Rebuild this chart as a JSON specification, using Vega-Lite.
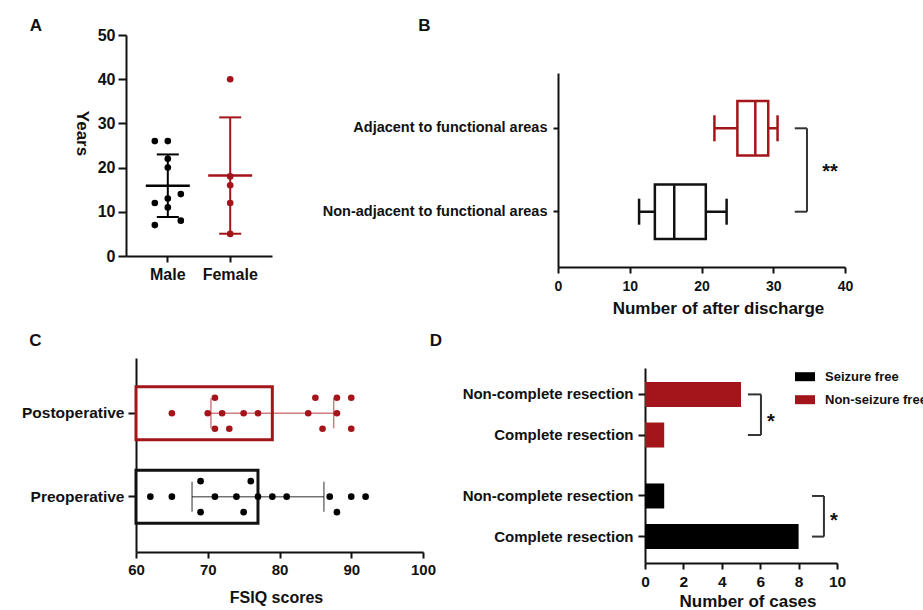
{
  "$schema": "https://vega.github.io/schema/vega-lite/v6.json",
  "width": 923,
  "height": 610,
  "autosize": "none",
  "padding": 0,
  "background": "white",
  "config": {
    "view": {"stroke": null},
    "font": "Liberation Sans",
    "tick": {"opacity": 1},
    "axis": {"grid": false, "domainColor": "#111111", "domainWidth": 2, "tickColor": "#111111", "tickWidth": 2, "labelColor": "#111111", "labelFontWeight": "bold", "titleColor": "#111111", "titleFontWeight": "bold", "labelFlush": false, "labelOverlap": false, "labelLimit": 0}
  },
  "datasets": {
    "age": [
      {"sex": "Male", "age": 26, "lane": -1},
      {"sex": "Male", "age": 26, "lane": 0},
      {"sex": "Male", "age": 22, "lane": 0},
      {"sex": "Male", "age": 20, "lane": 0},
      {"sex": "Male", "age": 14, "lane": 1},
      {"sex": "Male", "age": 13, "lane": 0},
      {"sex": "Male", "age": 12, "lane": -1},
      {"sex": "Male", "age": 11, "lane": 0},
      {"sex": "Male", "age": 8, "lane": 1},
      {"sex": "Male", "age": 7, "lane": -1},
      {"sex": "Female", "age": 40, "lane": 0},
      {"sex": "Female", "age": 18, "lane": 0},
      {"sex": "Female", "age": 16, "lane": 0},
      {"sex": "Female", "age": 12, "lane": 0},
      {"sex": "Female", "age": 5, "lane": 0}
    ],
    "discharge": [
      {"group": "Adjacent to functional areas", "lo": 21.8, "q1": 25.0, "med": 27.5, "q3": 29.3, "hi": 30.6},
      {"group": "Non-adjacent to functional areas", "lo": 11.3, "q1": 13.5, "med": 16.2, "q3": 20.6, "hi": 23.5}
    ],
    "fsiq": [
      {"time": "Postoperative", "score": 65, "lane": 0},
      {"time": "Postoperative", "score": 70, "lane": 0},
      {"time": "Postoperative", "score": 72, "lane": 0},
      {"time": "Postoperative", "score": 75, "lane": 0},
      {"time": "Postoperative", "score": 77, "lane": 0},
      {"time": "Postoperative", "score": 84, "lane": 0},
      {"time": "Postoperative", "score": 88, "lane": 0},
      {"time": "Postoperative", "score": 71, "lane": -1},
      {"time": "Postoperative", "score": 85, "lane": -1},
      {"time": "Postoperative", "score": 88, "lane": -1},
      {"time": "Postoperative", "score": 90, "lane": -1},
      {"time": "Postoperative", "score": 71, "lane": 1},
      {"time": "Postoperative", "score": 73, "lane": 1},
      {"time": "Postoperative", "score": 86, "lane": 1},
      {"time": "Postoperative", "score": 90, "lane": 1},
      {"time": "Preoperative", "score": 62, "lane": 0},
      {"time": "Preoperative", "score": 65, "lane": 0},
      {"time": "Preoperative", "score": 71, "lane": 0},
      {"time": "Preoperative", "score": 74, "lane": 0},
      {"time": "Preoperative", "score": 77, "lane": 0},
      {"time": "Preoperative", "score": 79, "lane": 0},
      {"time": "Preoperative", "score": 81, "lane": 0},
      {"time": "Preoperative", "score": 87, "lane": 0},
      {"time": "Preoperative", "score": 90, "lane": 0},
      {"time": "Preoperative", "score": 92, "lane": 0},
      {"time": "Preoperative", "score": 69, "lane": -1},
      {"time": "Preoperative", "score": 76, "lane": -1},
      {"time": "Preoperative", "score": 69, "lane": 1},
      {"time": "Preoperative", "score": 75, "lane": 1},
      {"time": "Preoperative", "score": 88, "lane": 1}
    ],
    "cases": [
      {"outcome": "Non-seizure free", "resection": "Non-complete resection", "row": "Non-seizure free / Non-complete resection", "cases": 5},
      {"outcome": "Non-seizure free", "resection": "Complete resection", "row": "Non-seizure free / Complete resection", "cases": 1},
      {"outcome": "Seizure free", "resection": "Non-complete resection", "row": "Seizure free / Non-complete resection", "cases": 1},
      {"outcome": "Seizure free", "resection": "Complete resection", "row": "Seizure free / Complete resection", "cases": 8}
    ],
    "sigB": [{"sig": "**"}],
    "sigD": [{"sig": "*"}]
  },
  "layer": [
    {
      "data": {"name": "age"},
      "mark": {"type": "errorbar", "extent": "stdev", "thickness": 2, "ticks": {"size": 22, "thickness": 2, "opacity": 1}},
      "encoding": {
        "x": {"field": "sex", "type": "nominal",
          "scale": {"type": "band", "domain": ["Male", "Female"], "range": [126, 272], "paddingInner": 0.5, "paddingOuter": 0.42},
          "axis": {"orient": "bottom", "offset": -354, "bandPosition": 0.5, "labelAngle": 0, "labelFontSize": 16, "tickSize": 6, "labelPadding": 4, "title": "A", "titleFontSize": 17, "titleX": 35.5, "titleY": -226, "titleAlign": "center", "titleBaseline": "alphabetic", "titleAngle": 0}},
        "y": {"field": "age", "type": "quantitative",
          "scale": {"domain": [0, 50], "range": [256, 35], "nice": false, "zero": false},
          "axis": {"orient": "left", "offset": -126, "values": [0, 10, 20, 30, 40, 50], "labelFontSize": 16, "tickSize": 8, "labelPadding": 3, "title": "Years", "titleFontSize": 17, "titleAngle": 90, "titleX": -45, "titleY": 133, "titleAlign": "center", "titleBaseline": "middle"}},
        "color": {"field": "sex", "type": "nominal", "scale": {"domain": ["Male", "Female"], "range": ["#000000", "#a3151b"]}, "legend": null}
      }
    },
    {
      "data": {"name": "age"},
      "mark": {"type": "tick", "thickness": 2.5, "size": 44, "opacity": 1},
      "encoding": {
        "x": {"field": "sex", "type": "nominal", "scale": {"type": "band", "domain": ["Male", "Female"], "range": [126, 272], "paddingInner": 0.5, "paddingOuter": 0.42}, "axis": null},
        "y": {"aggregate": "mean", "field": "age", "type": "quantitative", "scale": {"domain": [0, 50], "range": [256, 35], "nice": false, "zero": false}, "axis": null},
        "color": {"field": "sex", "type": "nominal", "scale": {"domain": ["Male", "Female"], "range": ["#000000", "#a3151b"]}, "legend": null}
      }
    },
    {
      "data": {"name": "age"},
      "mark": {"type": "circle", "size": 44, "opacity": 1},
      "encoding": {
        "x": {"field": "sex", "type": "nominal", "scale": {"type": "band", "domain": ["Male", "Female"], "range": [126, 272], "paddingInner": 0.5, "paddingOuter": 0.42}, "axis": null},
        "xOffset": {"field": "lane", "type": "quantitative", "scale": {"domain": [-1, 1], "range": [2.6, 28.6]}},
        "y": {"field": "age", "type": "quantitative", "scale": {"domain": [0, 50], "range": [256, 35], "nice": false, "zero": false}, "axis": null},
        "color": {"field": "sex", "type": "nominal", "scale": {"domain": ["Male", "Female"], "range": ["#000000", "#a3151b"]}, "legend": null}
      }
    },
    {
      "data": {"name": "discharge"},
      "mark": {"type": "rule", "strokeWidth": 2.5},
      "encoding": {
        "x": {"field": "lo", "type": "quantitative",
          "scale": {"domain": [0, 40], "range": [558, 845], "nice": false, "zero": false},
          "axis": {"orient": "bottom", "offset": -343, "values": [0, 10, 20, 30, 40], "labelFontSize": 14, "tickSize": 6, "labelPadding": 6, "title": "Number of after discharge", "titleFontSize": 17, "titleX": 718, "titleY": 41, "titleAlign": "center", "titleBaseline": "middle"}},
        "x2": {"field": "hi"},
        "y": {"field": "group", "type": "nominal",
          "scale": {"type": "band", "domain": ["Adjacent to functional areas", "Non-adjacent to functional areas"], "range": [73, 267], "paddingInner": 0.346, "paddingOuter": 0.336},
          "axis": {"orient": "left", "offset": -558, "bandPosition": 0.5, "labelFontSize": 14.5, "tickSize": 5, "labelPadding": 6, "title": "B", "titleFontSize": 17, "titleAngle": 0, "titleX": -134, "titleY": 30, "titleAlign": "center", "titleBaseline": "alphabetic"}},
        "color": {"field": "group", "type": "nominal", "scale": {"domain": ["Adjacent to functional areas", "Non-adjacent to functional areas"], "range": ["#a3151b", "#111111"]}, "legend": null}
      }
    },
    {
      "data": {"name": "discharge"},
      "mark": {"type": "bar", "fill": "white", "strokeWidth": 2.5, "height": 54.5},
      "encoding": {
        "x": {"field": "q1", "type": "quantitative", "scale": {"domain": [0, 40], "range": [558, 845], "nice": false, "zero": false}, "axis": null},
        "x2": {"field": "q3"},
        "y": {"field": "group", "type": "nominal", "scale": {"type": "band", "domain": ["Adjacent to functional areas", "Non-adjacent to functional areas"], "range": [73, 267], "paddingInner": 0.346, "paddingOuter": 0.336}, "axis": null},
        "stroke": {"field": "group", "type": "nominal", "scale": {"domain": ["Adjacent to functional areas", "Non-adjacent to functional areas"], "range": ["#a3151b", "#111111"]}, "legend": null}
      }
    },
    {
      "data": {"name": "discharge"},
      "mark": {"type": "tick", "size": 26, "thickness": 2.5, "opacity": 1},
      "encoding": {
        "x": {"field": "lo", "type": "quantitative", "scale": {"domain": [0, 40], "range": [558, 845], "nice": false, "zero": false}, "axis": null},
        "y": {"field": "group", "type": "nominal", "scale": {"type": "band", "domain": ["Adjacent to functional areas", "Non-adjacent to functional areas"], "range": [73, 267], "paddingInner": 0.346, "paddingOuter": 0.336}, "axis": null},
        "color": {"field": "group", "type": "nominal", "scale": {"domain": ["Adjacent to functional areas", "Non-adjacent to functional areas"], "range": ["#a3151b", "#111111"]}, "legend": null}
      }
    },
    {
      "data": {"name": "discharge"},
      "mark": {"type": "tick", "size": 26, "thickness": 2.5, "opacity": 1},
      "encoding": {
        "x": {"field": "hi", "type": "quantitative", "scale": {"domain": [0, 40], "range": [558, 845], "nice": false, "zero": false}, "axis": null},
        "y": {"field": "group", "type": "nominal", "scale": {"type": "band", "domain": ["Adjacent to functional areas", "Non-adjacent to functional areas"], "range": [73, 267], "paddingInner": 0.346, "paddingOuter": 0.336}, "axis": null},
        "color": {"field": "group", "type": "nominal", "scale": {"domain": ["Adjacent to functional areas", "Non-adjacent to functional areas"], "range": ["#a3151b", "#111111"]}, "legend": null}
      }
    },
    {
      "data": {"name": "discharge"},
      "mark": {"type": "tick", "size": 53, "thickness": 2.5, "opacity": 1},
      "encoding": {
        "x": {"field": "med", "type": "quantitative", "scale": {"domain": [0, 40], "range": [558, 845], "nice": false, "zero": false}, "axis": null},
        "y": {"field": "group", "type": "nominal", "scale": {"type": "band", "domain": ["Adjacent to functional areas", "Non-adjacent to functional areas"], "range": [73, 267], "paddingInner": 0.346, "paddingOuter": 0.336}, "axis": null},
        "color": {"field": "group", "type": "nominal", "scale": {"domain": ["Adjacent to functional areas", "Non-adjacent to functional areas"], "range": ["#a3151b", "#111111"]}, "legend": null}
      }
    },
    {
      "data": {"name": "discharge"},
      "mark": {"type": "rule", "strokeWidth": 2, "color": "#333333"},
      "encoding": {
        "x": {"datum": 33.0, "scale": {"domain": [0, 40], "range": [558, 845], "nice": false, "zero": false}, "axis": null},
        "x2": {"datum": 34.7},
        "y": {"field": "group", "type": "nominal", "scale": {"type": "band", "domain": ["Adjacent to functional areas", "Non-adjacent to functional areas"], "range": [73, 267], "paddingInner": 0.346, "paddingOuter": 0.336}, "axis": null}
      }
    },
    {
      "data": {"name": "sigB"},
      "mark": {"type": "rule", "strokeWidth": 2, "color": "#333333"},
      "encoding": {
        "x": {"datum": 34.7, "scale": {"domain": [0, 40], "range": [558, 845], "nice": false, "zero": false}, "axis": null},
        "y": {"datum": "Adjacent to functional areas", "scale": {"type": "band", "domain": ["Adjacent to functional areas", "Non-adjacent to functional areas"], "range": [73, 267], "paddingInner": 0.346, "paddingOuter": 0.336}, "axis": null},
        "y2": {"datum": "Non-adjacent to functional areas"}
      }
    },
    {
      "data": {"name": "sigB"},
      "mark": {"type": "text", "fontSize": 20, "fontWeight": "bold", "color": "#111111", "baseline": "alphabetic", "dy": 50},
      "encoding": {
        "x": {"datum": 37.9, "scale": {"domain": [0, 40], "range": [558, 845], "nice": false, "zero": false}, "axis": null},
        "y": {"datum": "Adjacent to functional areas", "scale": {"type": "band", "domain": ["Adjacent to functional areas", "Non-adjacent to functional areas"], "range": [73, 267], "paddingInner": 0.346, "paddingOuter": 0.336}, "axis": null},
        "text": {"field": "sig"}
      }
    },
    {
      "data": {"name": "fsiq"},
      "mark": {"type": "bar", "fill": "white", "strokeWidth": 3, "height": 53},
      "encoding": {
        "x": {"aggregate": "mean", "field": "score", "type": "quantitative",
          "scale": {"domain": [60, 100], "range": [136, 423], "nice": false, "zero": false},
          "axis": {"orient": "bottom", "offset": -58, "values": [60, 70, 80, 90, 100], "labelFontSize": 15, "tickSize": 6, "labelPadding": 4, "title": "FSIQ scores", "titleFontSize": 16, "titleX": 276, "titleY": 45, "titleAlign": "center", "titleBaseline": "middle"}},
        "x2": {"datum": 60},
        "y": {"field": "time", "type": "nominal",
          "scale": {"type": "band", "domain": ["Postoperative", "Preoperative"], "range": [358, 552], "paddingInner": 0.364, "paddingOuter": 0.345},
          "axis": {"orient": "left", "offset": -136, "bandPosition": 0.5, "labelFontSize": 15.5, "tickSize": 8, "labelPadding": 4, "title": "C", "titleFontSize": 17, "titleAngle": 0, "titleX": -101, "titleY": 345, "titleAlign": "center", "titleBaseline": "alphabetic"}},
        "stroke": {"field": "time", "type": "nominal", "scale": {"domain": ["Postoperative", "Preoperative"], "range": ["#a3151b", "#111111"]}, "legend": null}
      }
    },
    {
      "data": {"name": "fsiq"},
      "mark": {"type": "errorbar", "extent": "stdev", "thickness": 1.5, "opacity": 0.55, "ticks": {"size": 30, "thickness": 1.5}},
      "encoding": {
        "x": {"field": "score", "type": "quantitative", "scale": {"domain": [60, 100], "range": [136, 423], "nice": false, "zero": false}, "axis": null},
        "y": {"field": "time", "type": "nominal", "scale": {"type": "band", "domain": ["Postoperative", "Preoperative"], "range": [358, 552], "paddingInner": 0.364, "paddingOuter": 0.345}, "axis": null},
        "color": {"field": "time", "type": "nominal", "scale": {"domain": ["Postoperative", "Preoperative"], "range": ["#a3151b", "#000000"]}, "legend": null}
      }
    },
    {
      "data": {"name": "fsiq"},
      "mark": {"type": "circle", "size": 44, "opacity": 1},
      "encoding": {
        "x": {"field": "score", "type": "quantitative", "scale": {"domain": [60, 100], "range": [136, 423], "nice": false, "zero": false}, "axis": null},
        "y": {"field": "time", "type": "nominal", "scale": {"type": "band", "domain": ["Postoperative", "Preoperative"], "range": [358, 552], "paddingInner": 0.364, "paddingOuter": 0.345}, "axis": null},
        "yOffset": {"field": "lane", "type": "quantitative", "scale": {"domain": [-1, 1], "range": [11, 42]}},
        "color": {"field": "time", "type": "nominal", "scale": {"domain": ["Postoperative", "Preoperative"], "range": ["#a3151b", "#000000"]}, "legend": null}
      }
    },
    {
      "data": {"name": "cases"},
      "mark": {"type": "bar", "height": 25},
      "encoding": {
        "x": {"field": "cases", "type": "quantitative",
          "scale": {"domain": [0, 10], "range": [645, 837], "nice": false},
          "axis": {"orient": "bottom", "offset": -47, "values": [0, 2, 4, 6, 8, 10], "labelFontSize": 15.5, "tickSize": 6, "labelPadding": 5, "title": "Number of cases", "titleFontSize": 17, "titleX": 747.5, "titleY": 38.7, "titleAlign": "center", "titleBaseline": "middle"}},
        "y": {"field": "row", "type": "nominal",
          "scale": {"type": "band", "domain": ["Non-seizure free / Non-complete resection", "gap1", "Non-seizure free / Complete resection", "gap2", "gap3", "Seizure free / Non-complete resection", "gap4", "Seizure free / Complete resection"], "range": [368, 563], "paddingInner": 0, "paddingOuter": 0.8},
          "axis": {"orient": "left", "offset": -645, "bandPosition": 0.5, "values": ["Non-seizure free / Non-complete resection", "Non-seizure free / Complete resection", "Seizure free / Non-complete resection", "Seizure free / Complete resection"], "labelExpr": "split(datum.value, ' / ')[1]", "labelFontSize": 15, "tickSize": 7, "labelPadding": 5, "title": "D", "titleFontSize": 17, "titleAngle": 0, "titleX": -209.5, "titleY": 345, "titleAlign": "center", "titleBaseline": "alphabetic"}},
        "color": {"field": "outcome", "type": "nominal",
          "scale": {"domain": ["Seizure free", "Non-seizure free"], "range": ["#000000", "#a3151b"]},
          "legend": {"orient": "none", "legendX": 795, "legendY": 366.7, "title": null, "padding": 0, "symbolType": "M-1,-0.45H1V0.45H-1Z", "symbolSize": 400, "symbolStrokeWidth": 0, "symbolOpacity": 1, "labelFontSize": 13, "labelFontWeight": "bold", "labelColor": "#111111", "labelOffset": 10, "rowPadding": 6, "labelLimit": 0}}
      }
    },
    {
      "data": {"name": "cases"},
      "transform": [{"filter": "datum.outcome == 'Non-seizure free'"}],
      "mark": {"type": "rule", "strokeWidth": 2, "color": "#333333"},
      "encoding": {
        "x": {"datum": 5.36, "scale": {"domain": [0, 10], "range": [645, 837], "nice": false}, "axis": null},
        "x2": {"datum": 6.04},
        "y": {"field": "row", "type": "nominal", "scale": {"type": "band", "domain": ["Non-seizure free / Non-complete resection", "gap1", "Non-seizure free / Complete resection", "gap2", "gap3", "Seizure free / Non-complete resection", "gap4", "Seizure free / Complete resection"], "range": [368, 563], "paddingInner": 0, "paddingOuter": 0.8}, "axis": null}
      }
    },
    {
      "data": {"name": "cases"},
      "transform": [{"filter": "datum.outcome == 'Seizure free'"}],
      "mark": {"type": "rule", "strokeWidth": 2, "color": "#333333"},
      "encoding": {
        "x": {"datum": 8.7, "scale": {"domain": [0, 10], "range": [645, 837], "nice": false}, "axis": null},
        "x2": {"datum": 9.32},
        "y": {"field": "row", "type": "nominal", "scale": {"type": "band", "domain": ["Non-seizure free / Non-complete resection", "gap1", "Non-seizure free / Complete resection", "gap2", "gap3", "Seizure free / Non-complete resection", "gap4", "Seizure free / Complete resection"], "range": [368, 563], "paddingInner": 0, "paddingOuter": 0.8}, "axis": null}
      }
    },
    {
      "data": {"name": "sigD"},
      "mark": {"type": "rule", "strokeWidth": 2, "color": "#333333"},
      "encoding": {
        "x": {"datum": 6.04, "scale": {"domain": [0, 10], "range": [645, 837], "nice": false}, "axis": null},
        "y": {"datum": "Non-seizure free / Non-complete resection", "scale": {"type": "band", "domain": ["Non-seizure free / Non-complete resection", "gap1", "Non-seizure free / Complete resection", "gap2", "gap3", "Seizure free / Non-complete resection", "gap4", "Seizure free / Complete resection"], "range": [368, 563], "paddingInner": 0, "paddingOuter": 0.8}, "axis": null},
        "y2": {"datum": "Non-seizure free / Complete resection"}
      }
    },
    {
      "data": {"name": "sigD"},
      "mark": {"type": "rule", "strokeWidth": 2, "color": "#333333"},
      "encoding": {
        "x": {"datum": 9.32, "scale": {"domain": [0, 10], "range": [645, 837], "nice": false}, "axis": null},
        "y": {"datum": "Seizure free / Non-complete resection", "scale": {"type": "band", "domain": ["Non-seizure free / Non-complete resection", "gap1", "Non-seizure free / Complete resection", "gap2", "gap3", "Seizure free / Non-complete resection", "gap4", "Seizure free / Complete resection"], "range": [368, 563], "paddingInner": 0, "paddingOuter": 0.8}, "axis": null},
        "y2": {"datum": "Seizure free / Complete resection"}
      }
    },
    {
      "data": {"name": "sigD"},
      "mark": {"type": "text", "fontSize": 20, "fontWeight": "bold", "color": "#111111", "baseline": "alphabetic", "dy": -7},
      "encoding": {
        "x": {"datum": 6.56, "scale": {"domain": [0, 10], "range": [645, 837], "nice": false}, "axis": null},
        "y": {"datum": "Non-seizure free / Complete resection", "scale": {"type": "band", "domain": ["Non-seizure free / Non-complete resection", "gap1", "Non-seizure free / Complete resection", "gap2", "gap3", "Seizure free / Non-complete resection", "gap4", "Seizure free / Complete resection"], "range": [368, 563], "paddingInner": 0, "paddingOuter": 0.8}, "axis": null},
        "text": {"field": "sig"}
      }
    },
    {
      "data": {"name": "sigD"},
      "mark": {"type": "text", "fontSize": 20, "fontWeight": "bold", "color": "#111111", "baseline": "alphabetic", "dy": -10},
      "encoding": {
        "x": {"datum": 9.84, "scale": {"domain": [0, 10], "range": [645, 837], "nice": false}, "axis": null},
        "y": {"datum": "Seizure free / Complete resection", "scale": {"type": "band", "domain": ["Non-seizure free / Non-complete resection", "gap1", "Non-seizure free / Complete resection", "gap2", "gap3", "Seizure free / Non-complete resection", "gap4", "Seizure free / Complete resection"], "range": [368, 563], "paddingInner": 0, "paddingOuter": 0.8}, "axis": null},
        "text": {"field": "sig"}
      }
    }
  ],
  "resolve": {
    "scale": {"x": "independent", "y": "independent", "color": "independent", "stroke": "independent"},
    "axis": {"x": "independent", "y": "independent"}
  }
}
